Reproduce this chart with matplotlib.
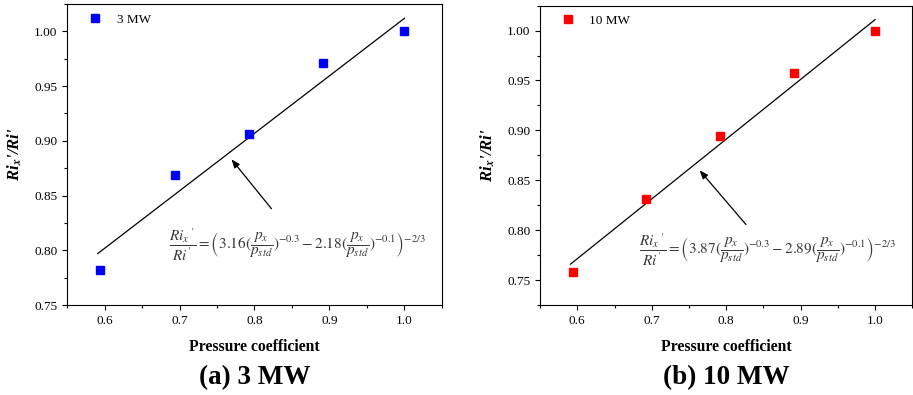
import matplotlib
matplotlib.use("Agg")
import matplotlib.pyplot as plt
from matplotlib.ticker import MultipleLocator

plt.rcParams["font.family"] = ["Liberation Serif", "DejaVu Serif"]
plt.rcParams["mathtext.fontset"] = "stix"

# data
px_3mw = [0.594, 0.694, 0.793, 0.891, 1.0]
ri_3mw = [0.782, 0.869, 0.906, 0.971, 1.0]
fit_x_3mw = [0.591, 1.0]
fit_y_3mw = [0.797, 1.012]

px_10mw = [0.594, 0.692, 0.792, 0.891, 1.0]
ri_10mw = [0.758, 0.831, 0.894, 0.957, 1.0]
fit_x_10mw = [0.591, 1.0]
fit_y_10mw = [0.766, 1.011]

eq_3mw = (r"$\dfrac{Ri_x\,\mathrm{'}}{Ri\,\mathrm{'}}=\left(3.16(\dfrac{p_x}{p_{std}})^{-0.3}"
          r"-2.18(\dfrac{p_x}{p_{std}})^{-0.1}\right)^{-2/3}$")
eq_10mw = (r"$\dfrac{Ri_x\,\mathrm{'}}{Ri\,\mathrm{'}}=\left(3.87(\dfrac{p_x}{p_{std}})^{-0.3}"
           r"-2.89(\dfrac{p_x}{p_{std}})^{-0.1}\right)^{-2/3}$")

fig = plt.figure(figsize=(9.13, 3.95), dpi=100)
ax1 = fig.add_axes([0.0734, 0.2278, 0.4107, 0.762])
ax2 = fig.add_axes([0.5915, 0.2278, 0.4078, 0.758])

panels = [
    (ax1, px_3mw, ri_3mw, fit_x_3mw, fit_y_3mw, "#0000ff", "3 MW", eq_3mw,
     (0.75, 1.025), (0.767, 0.885), (0.825, 0.836), (0.857, 0.805), "(a) 3 MW"),
    (ax2, px_10mw, ri_10mw, fit_x_10mw, fit_y_10mw, "#ff0000", "10 MW", eq_10mw,
     (0.725, 1.025), (0.762, 0.862), (0.829, 0.8035), (0.855, 0.780), "(b) 10 MW"),
]

for (ax, xs, ys, fx, fy, col, lab, eq, ylim, head, tail, eqpos, title) in panels:
    ax.plot(xs, ys, "s", color=col, markersize=5.5, label=lab, zorder=3)
    ax.plot(fx, fy, color="black", lw=0.9)
    ax.annotate("", xy=head, xytext=tail,
                arrowprops=dict(arrowstyle="-|>,head_length=0.5,head_width=0.2",
                                color="black", lw=0.9))
    ax.text(eqpos[0], eqpos[1], eq, fontsize=11, color="#383838",
            ha="center", va="center")
    ax.set_xlim(0.55, 1.05)
    ax.set_ylim(*ylim)
    ax.xaxis.set_major_locator(MultipleLocator(0.1))
    ax.xaxis.set_minor_locator(MultipleLocator(0.05))
    ax.yaxis.set_minor_locator(MultipleLocator(0.025))
    ax.set_yticks([0.75, 0.80, 0.85, 0.90, 0.95, 1.00])
    ax.yaxis.set_major_formatter(plt.FormatStrFormatter("%.2f"))
    ax.xaxis.set_major_formatter(plt.FormatStrFormatter("%.1f"))
    ax.tick_params(which="major", direction="out", length=3.5, width=0.8,
                   labelsize=9.5)
    ax.tick_params(which="minor", direction="out", length=2, width=0.8)
    for s in ax.spines.values():
        s.set_linewidth(0.8)
    ax.set_xlabel("Pressure coefficient", fontsize=11.3, fontweight="bold",
                  labelpad=9)
    ax.set_ylabel(r"Ri$_{\mathbfit{x}}$'/Ri'", fontsize=12, fontweight="bold",
                  fontstyle="italic", labelpad=7)
    ax.legend(loc="upper left", frameon=False, fontsize=9.5,
              handletextpad=1.0, borderaxespad=0.3, handlelength=1.2,
              bbox_to_anchor=(0.03, 1.0))
    bb = ax.get_position()
    fig.text((bb.x0 + bb.x1) / 2, 0.045, title, fontsize=19.5,
             fontweight="bold", ha="center", va="center")

fig.savefig("out.png", dpi=100)
